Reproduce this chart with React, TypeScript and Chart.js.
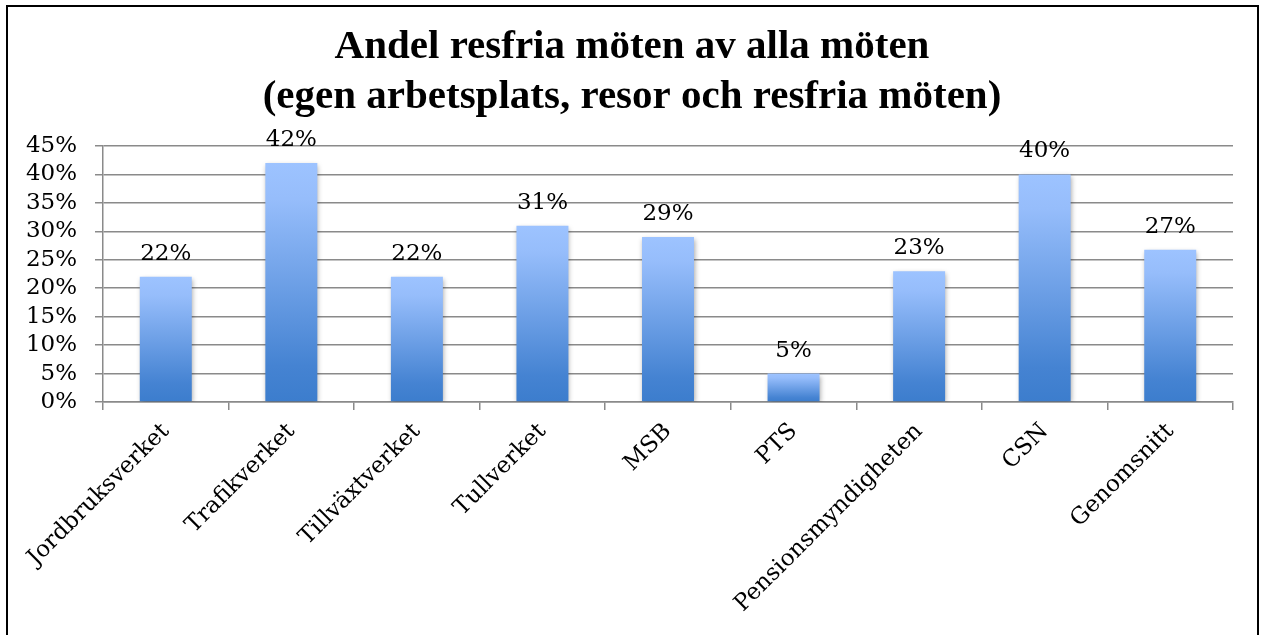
import React, { useEffect, useRef } from "react";
import { Chart, registerables } from "chart.js";

Chart.register(...registerables);

const categories = [
  "Jordbruksverket",
  "Trafikverket",
  "Tillväxtverket",
  "Tullverket",
  "MSB",
  "PTS",
  "Pensionsmyndigheten",
  "CSN",
  "Genomsnitt",
];
const shareValues = [22, 42, 22, 31, 29, 5, 23, 40, 26.75];
const titleLines = [
  "Andel resfria möten av alla möten",
  "(egen arbetsplats, resor och resfria möten)",
];
const yMax = 45;
const yStep = 5;

const W = 1264;
const H = 635;
const TICK_FONT = "'DejaVu Serif', serif";
const TICK_SIZE = 23;

const framePlugin = {
  id: "frame",
  beforeDraw(chart: any) {
    const ctx = chart.ctx;
    ctx.save();
    ctx.fillStyle = "#ffffff";
    ctx.fillRect(0, 0, W, H);
    ctx.strokeStyle = "#000000";
    ctx.lineWidth = 2;
    ctx.strokeRect(7, 6, 1251, H + 10);
    ctx.restore();
  },
};

const titleTextPlugin = {
  id: "titleText",
  afterDraw(chart: any) {
    const ctx = chart.ctx;
    ctx.save();
    ctx.font = "bold 41px 'Liberation Serif', serif";
    ctx.fillStyle = "#000000";
    ctx.textAlign = "center";
    ctx.textBaseline = "middle";
    titleLines.forEach((line, i) => {
      ctx.fillText(line, W / 2, 47 + i * 50);
    });
    ctx.restore();
  },
};

const shadowPlugin = {
  id: "barShadow",
  beforeDatasetDraw(chart: any) {
    const ctx = chart.ctx;
    ctx.save();
    ctx.shadowColor = "rgba(0,0,0,0.35)";
    ctx.shadowBlur = 5;
    ctx.shadowOffsetX = 1;
    ctx.shadowOffsetY = 2;
  },
  afterDatasetDraw(chart: any) {
    chart.ctx.restore();
  },
};

const valueLabelPlugin = {
  id: "valueLabels",
  afterDatasetsDraw(chart: any) {
    const ctx = chart.ctx;
    const meta = chart.getDatasetMeta(0);
    ctx.save();
    ctx.font = TICK_SIZE + "px " + TICK_FONT;
    ctx.fillStyle = "#000000";
    ctx.textAlign = "center";
    ctx.textBaseline = "alphabetic";
    meta.data.forEach((bar: any, i: number) => {
      const v = chart.data.datasets[0].data[i] as number;
      ctx.fillText(Math.round(v) + "%", bar.x, bar.y - 17);
    });
    ctx.restore();
  },
};

export default function App() {
  const ref = useRef<HTMLCanvasElement | null>(null);

  useEffect(() => {
    document.body.style.margin = "0";
    const canvas = ref.current;
    if (!canvas) return;
    const chart = new Chart(canvas, {
      type: "bar",
      data: {
        labels: categories,
        datasets: [
          {
            data: shareValues,
            backgroundColor: (context: any) => {
              const c = context.chart;
              const yScale = c.scales && c.scales.y;
              if (!yScale || context.raw == null) return "#6b9de6";
              const top = yScale.getPixelForValue(context.raw);
              const base = yScale.getPixelForValue(0);
              if (!isFinite(top) || !isFinite(base) || top === base) return "#6b9de6";
              const g = c.ctx.createLinearGradient(0, top, 0, base);
              g.addColorStop(0, "#9dc3ff");
              g.addColorStop(0.15, "#96bdfb");
              g.addColorStop(0.85, "#4583d2");
              g.addColorStop(1, "#3c7dcd");
              return g;
            },
            borderWidth: 0,
            categoryPercentage: 1,
            barPercentage: 0.414,
          },
        ],
      },
      options: {
        responsive: false,
        animation: false,
        devicePixelRatio: 1,
        layout: { padding: { left: 0, right: 31, top: 146, bottom: 0 } },
        plugins: {
          legend: { display: false },
          tooltip: { enabled: false },
          title: { display: false },
        },
        scales: {
          x: {
            grid: {
              display: true,
              drawOnChartArea: false,
              drawTicks: true,
              tickLength: 8,
              offset: true,
              color: "#8a8a8a",
              lineWidth: 1.5,
            },
            border: { display: true, color: "#8a8a8a", width: 1.5 },
            ticks: {
              color: "#000000",
              font: { family: TICK_FONT, size: TICK_SIZE },
              minRotation: 45,
              maxRotation: 45,
              autoSkip: false,
              padding: 8,
            },
            afterFit(scale: any) {
              scale.height = 233;
              scale.paddingLeft = 0;
              scale.paddingRight = 0;
            },
          },
          y: {
            min: 0,
            max: yMax,
            grid: {
              color: "#8a8a8a",
              lineWidth: 1.5,
              drawTicks: true,
              tickLength: 8,
            },
            border: { display: true, color: "#8a8a8a", width: 1.5 },
            ticks: {
              stepSize: yStep,
              autoSkip: false,
              color: "#000000",
              font: { family: TICK_FONT, size: TICK_SIZE },
              padding: 18,
              callback: (v: any) => v + "%",
            },
            afterFit(scale: any) {
              scale.width = 103;
              scale.paddingTop = 0;
              scale.paddingBottom = 0;
            },
          },
        },
      },
      plugins: [framePlugin, shadowPlugin, valueLabelPlugin, titleTextPlugin],
    });
    return () => chart.destroy();
  }, []);

  return (
    <div style={{ position: "absolute", left: 0, top: 0, width: W, height: H }}>
      <canvas ref={ref} width={W} height={H} style={{ width: W, height: H, display: "block" }} />
    </div>
  );
}
